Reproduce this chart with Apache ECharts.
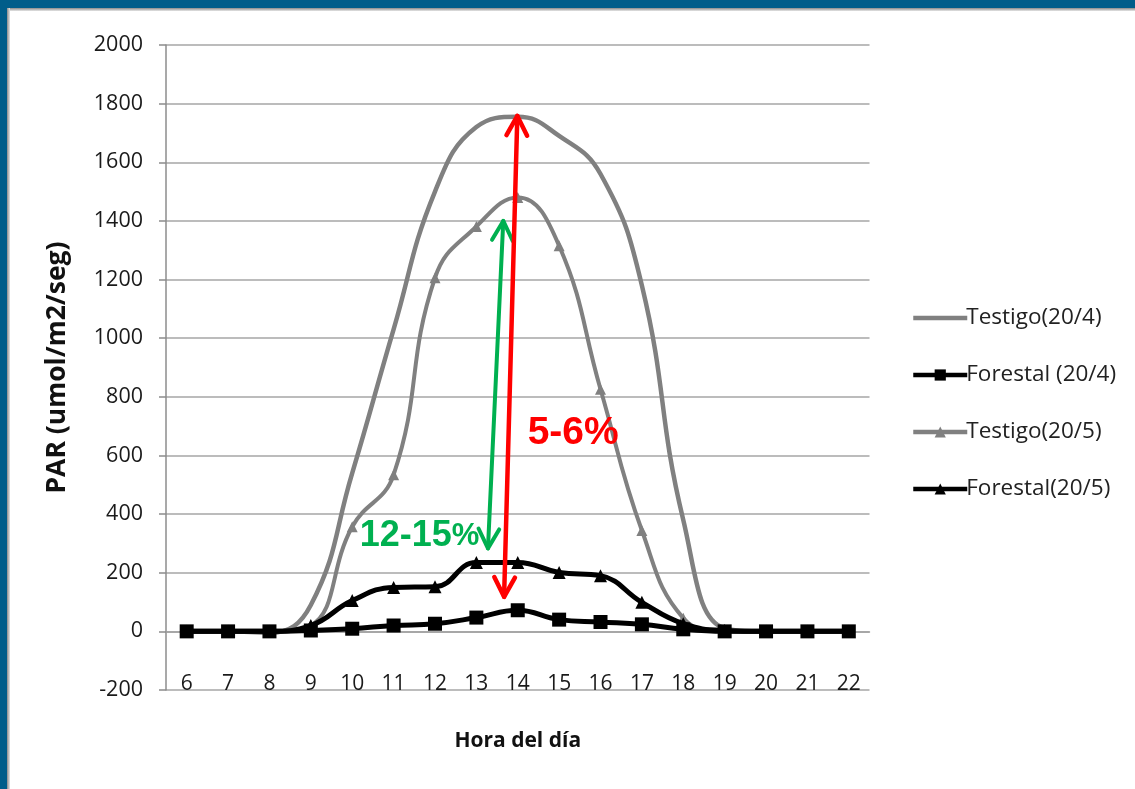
<!DOCTYPE html>
<html>
<head>
<meta charset="utf-8">
<script src="https://cdn.jsdelivr.net/npm/echarts@6/dist/echarts.min.js"></script>
<style>
  html, body { margin:0; padding:0; width:1135px; height:789px; overflow:hidden; background:#fff; }
  #frameTop { position:absolute; left:0; top:0; width:1135px; height:8px; background:#005d8a; }
  #frameTopShade { position:absolute; left:0; top:8px; width:1135px; height:3px; background:linear-gradient(#8a8a8a,#e6e6e6); }
  #frameLeft { position:absolute; left:0; top:0; width:7px; height:789px; background:#005d8a; }
  #frameLeftShade { position:absolute; left:7px; top:8px; width:3px; height:781px; background:linear-gradient(90deg,#8a8a8a,#e6e6e6); }
  #chart { position:absolute; left:0; top:0; width:1135px; height:789px; }
</style>
</head>
<body>
<div id="chart"></div>
<div id="frameTopShade"></div>
<div id="frameLeftShade"></div>
<div id="frameTop"></div>
<div id="frameLeft"></div>
<script>
// ---- data ----
const hours = ['6','7','8','9','10','11','12','13','14','15','16','17','18','19','20','21','22'];
const seriesNames = ['Testigo(20/4)', 'Forestal (20/4)', 'Testigo(20/5)', 'Forestal(20/5)'];
const testigo204  = [0, 0, -5, 90, 540, 1030, 1500, 1720, 1755, 1690, 1560, 1180, 380, 10, 0, 0, 0];
const forestal204 = [0, 0, 0, 3, 9, 20, 26, 47, 72, 40, 32, 24, 7, 0, 0, 0, 0];
const testigo205  = [0, 0, 0, 20, 357, 534, 1206, 1381, 1480, 1315, 826, 344, 45, 0, 0, 0, 0];
const forestal205 = [0, 0, 0, 20, 105, 150, 152, 235, 235, 201, 190, 99, 26, 3, 0, 0, 0];
const yMin = -200, yMax = 2000, yStep = 200;
const yTitle = 'PAR (umol/m2/seg)';
const xTitle = 'Hora del día';

// annotations, in data space: [hour, value]
const greenArrow = [[13.65, 1400], [13.28, 283]];
const redArrow   = [[13.99, 1758], [13.67, 118]];
const greenLabel = { main: '12-15', tail: '%', at: [10.18, 325] };
const redLabel   = { text: '5-6%', at: [14.24, 677] };

const FONT = 'Open Sans';
const chart = echarts.init(document.getElementById('chart'), null, { renderer: 'canvas' });

const option = {
  animation: false,
  backgroundColor: '#ffffff',
  grid: { left: 166, right: 265.5, top: 45, bottom: 99, containLabel: false },
  legend: {
    orient: 'vertical',
    left: 906, top: 301,
    itemWidth: 54, itemHeight: 14, itemGap: 33,
    selectedMode: false,
    lineStyle: { width: 4.5 },
    textStyle: { fontFamily: FONT, fontSize: 22.5, color: '#222', lineHeight: 24, padding: [0,0,0,-6] },
    data: [
      { name: seriesNames[0], icon: 'path://M0,0L54,0L54,4.5L0,4.5Z', itemStyle: { color: '#808080' } },
      { name: seriesNames[1] },
      { name: seriesNames[2] },
      { name: seriesNames[3] }
    ]
  },
  xAxis: {
    type: 'category',
    data: hours,
    boundaryGap: true,
    name: xTitle,
    nameLocation: 'middle',
    nameGap: 41,
    nameTextStyle: { fontFamily: FONT, fontSize: 21, fontWeight: 'bold', color: '#111' },
    axisLine: { show: true, lineStyle: { color: '#a0a0a0', width: 1.5 } },
    axisTick: { show: false },
    axisLabel: { fontFamily: FONT, fontSize: 21, color: '#1a1a1a', margin: -16, verticalAlign: 'top' },
    splitLine: { show: false }
  },
  yAxis: {
    type: 'value',
    min: yMin, max: yMax, interval: yStep,
    name: yTitle,
    nameLocation: 'middle',
    nameGap: 95,
    nameRotate: 90,
    nameTextStyle: { fontFamily: FONT, fontSize: 26.5, fontWeight: 'bold', color: '#111' },
    axisLine: { show: true, lineStyle: { color: '#8c8c8c', width: 1.5 } },
    axisTick: { show: true, length: 7, inside: false, lineStyle: { color: '#8c8c8c', width: 1.5 } },
    axisLabel: { fontFamily: FONT, fontSize: 21.5, color: '#1a1a1a', margin: 23, formatter: v => String(v) },
    splitLine: { show: true, lineStyle: { color: '#a6a6a6', width: 1.5 } }
  },
  series: [
    {
      name: seriesNames[0], type: 'line', data: testigo204, smooth: 0.45,
      symbol: 'none', lineStyle: { color: '#808080', width: 4.5 }, itemStyle: { color: '#808080' }, z: 2
    },
    {
      name: seriesNames[1], type: 'line', data: forestal204, smooth: 0.45,
      symbol: 'rect', symbolSize: 14, lineStyle: { color: '#000', width: 5 }, itemStyle: { color: '#000' }, z: 4
    },
    {
      name: seriesNames[2], type: 'line', data: testigo205, smooth: 0.45,
      symbol: 'triangle', symbolSize: 11, lineStyle: { color: '#808080', width: 4 }, itemStyle: { color: '#808080' }, z: 3
    },
    {
      name: seriesNames[3], type: 'line', data: forestal205, smooth: 0.45,
      symbol: 'triangle', symbolSize: 13, lineStyle: { color: '#000', width: 5 }, itemStyle: { color: '#000' }, z: 4
    }
  ]
};
chart.setOption(option);

// convert [hour, value] to pixels through the chart's own axes
function toPx(pt) {
  const p0 = chart.convertToPixel({ xAxisIndex: 0, yAxisIndex: 0 }, [0, pt[1]]);
  const p1 = chart.convertToPixel({ xAxisIndex: 0, yAxisIndex: 0 }, [1, pt[1]]);
  const idx = pt[0] - Number(hours[0]);
  return [p0[0] + idx * (p1[0] - p0[0]), p0[1]];
}
function arrowHead(tip, from, color, w) {
  const dx = from[0] - tip[0], dy = from[1] - tip[1];
  const len = Math.sqrt(dx*dx + dy*dy);
  const ux = dx/len, uy = dy/len;
  const L = 22, ang = 28 * Math.PI / 180;
  const c = Math.cos(ang), s = Math.sin(ang);
  const a = [tip[0] + L*(ux*c - uy*s), tip[1] + L*(ux*s + uy*c)];
  const b = [tip[0] + L*(ux*c + uy*s), tip[1] + L*(-ux*s + uy*c)];
  return { type: 'polyline', z: 10, shape: { points: [a, tip, b] },
           style: { stroke: color, lineWidth: w, fill: null, lineCap: 'round', lineJoin: 'round' } };
}
function doubleArrow(pts, color, w) {
  const a = toPx(pts[0]), b = toPx(pts[1]);
  return [
    { type: 'line', z: 10, shape: { x1: a[0], y1: a[1], x2: b[0], y2: b[1] },
      style: { stroke: color, lineWidth: w, lineCap: 'round' } },
    arrowHead(a, b, color, w),
    arrowHead(b, a, color, w)
  ];
}
const green = '#00b050', red = '#ff0000';
const gp = toPx(greenLabel.at), rp = toPx(redLabel.at);
chart.setOption({
  graphic: [].concat(
    doubleArrow(greenArrow, green, 4),
    doubleArrow(redArrow, red, 4.5),
    [
      { type: 'text', z: 11, x: gp[0], y: gp[1],
        style: { text: '{a|' + greenLabel.main + '}{b|' + greenLabel.tail + '}',
                 textAlign: 'left', textVerticalAlign: 'middle',
                 rich: {
                   a: { fill: green, font: 'bold 36px "Liberation Sans", Arial, sans-serif' },
                   b: { fill: green, font: 'bold 31px "Liberation Sans", Arial, sans-serif' }
                 } } },
      { type: 'text', z: 11, x: rp[0], y: rp[1],
        style: { text: redLabel.text, fill: red, font: 'bold 39px "Liberation Sans", Arial, sans-serif',
                 textAlign: 'left', textVerticalAlign: 'middle' } }
    ]
  )
});
</script>
</body>
</html>
